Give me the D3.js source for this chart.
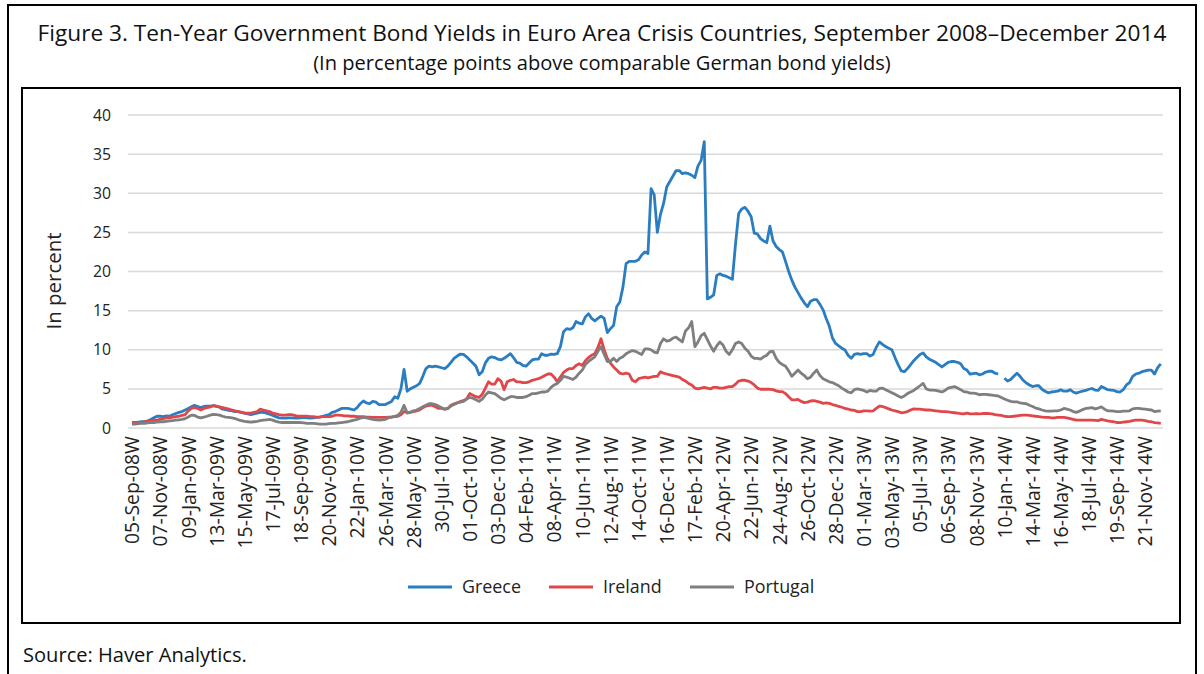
<!DOCTYPE html>
<html>
<head>
<meta charset="utf-8">
<script src="https://cdn.jsdelivr.net/npm/d3@7"></script>
<style>
  body { margin: 0; background: #fff; }
  svg { font-family: "Open Sans", "Noto Sans", sans-serif; }
</style>
</head>
<body>
<svg width="1204" height="674"></svg>
<script>
// weekly spreads, first week 05-Sep-2008, last week 26-Dec-2014
const startDate = new Date(2008, 8, 5);

const greece = [
  0.7,0.7,0.75,0.8,0.8,0.9,1.1,1.3,1.5,
  1.5,1.45,1.55,1.5,1.7,1.85,2.0,2.1,2.3,
  2.5,2.7,2.9,2.75,2.6,2.75,2.8,2.8,2.85,
  2.75,2.65,2.4,2.35,2.25,2.2,2.1,2.1,2.0,
  1.9,1.8,1.7,1.8,1.9,2.0,2.0,1.9,1.75,
  1.6,1.45,1.3,1.25,1.25,1.3,1.3,1.25,1.25,
  1.3,1.35,1.3,1.25,1.3,1.35,1.4,1.5,1.6,
  1.7,2.0,2.1,2.3,2.5,2.5,2.5,2.4,2.3,
  2.6,3.1,3.45,3.2,3.1,3.4,3.3,3.0,3.0,
  3.0,3.2,3.4,4.0,3.8,5.0,7.5,4.7,5.0,
  5.2,5.4,5.7,6.6,7.6,7.9,7.8,7.9,7.8,
  7.7,7.6,7.9,8.4,8.9,9.2,9.45,9.4,9.1,
  8.7,8.3,7.9,6.8,7.2,8.3,8.9,9.1,9.0,
  8.8,8.7,8.9,9.2,9.5,9.0,8.4,8.3,8.0,
  7.9,8.3,8.7,8.8,8.8,9.5,9.3,9.3,9.45,
  9.4,9.5,10.4,12.3,12.7,12.6,12.8,13.6,13.4,
  13.3,14.2,14.6,14.0,13.7,14.0,14.3,14.0,12.2,
  12.7,13.1,15.5,16.1,18.0,21.0,21.3,21.3,21.3,
  21.5,22.1,22.5,22.3,30.6,29.8,25.0,27.3,28.7,
  30.8,31.5,32.2,32.9,32.9,32.5,32.6,32.5,32.3,
  32.0,33.5,34.2,36.6,16.5,16.7,17.0,19.5,19.7,
  19.5,19.4,19.2,19.0,23.5,27.4,28.0,28.2,27.7,
  27.0,24.9,24.8,24.2,23.9,23.7,25.8,23.9,23.2,
  22.8,22.5,21.3,20.0,18.9,18.0,17.3,16.6,16.0,
  15.5,16.2,16.4,16.4,15.8,15.1,14.0,13.0,11.5,
  10.8,10.5,10.2,9.96,9.3,8.9,9.4,9.5,9.4,
  9.5,9.5,9.2,9.4,10.3,11.0,10.7,10.4,10.2,
  10.0,9.0,8.1,7.3,7.2,7.6,8.1,8.6,9.0,
  9.4,9.6,9.1,8.8,8.6,8.4,8.1,7.8,8.1,
  8.4,8.5,8.5,8.4,8.2,7.6,7.4,6.9,6.95,
  7.0,6.8,6.9,7.15,7.25,7.25,7.0,6.9,null,
  6.35,6.0,6.2,6.6,7.0,6.6,6.1,5.75,5.5,
  5.3,5.4,5.4,4.95,4.7,4.5,4.6,4.65,4.7,
  4.9,4.7,4.7,4.9,4.6,4.45,4.6,4.7,4.8,
  4.95,5.05,4.85,4.8,5.3,5.1,4.9,4.85,4.8,
  4.65,4.6,4.9,5.5,5.8,6.6,6.9,7.0,7.2,
  7.3,7.4,7.4,6.9,7.7,8.2
];

const ireland = [
  0.6,0.6,0.7,0.7,0.8,0.85,0.9,1.0,1.0,
  1.1,1.2,1.3,1.3,1.4,1.45,1.5,1.6,1.7,
  2.2,2.5,2.6,2.5,2.3,2.5,2.6,2.7,2.85,
  2.8,2.7,2.6,2.5,2.4,2.3,2.2,2.1,2.0,
  1.9,1.9,1.9,2.0,2.1,2.4,2.3,2.2,2.1,
  1.9,1.8,1.7,1.65,1.65,1.7,1.7,1.6,1.5,
  1.5,1.5,1.5,1.45,1.45,1.4,1.4,1.45,1.45,
  1.45,1.5,1.65,1.65,1.6,1.55,1.55,1.5,1.5,
  1.45,1.45,1.45,1.4,1.4,1.35,1.35,1.35,1.35,
  1.35,1.4,1.4,1.45,1.5,1.7,2.1,2.0,2.0,
  2.1,2.2,2.3,2.6,2.8,2.9,2.9,2.7,2.5,
  2.5,2.4,2.5,2.9,3.1,3.2,3.4,3.5,3.7,
  4.4,4.2,4.0,3.9,4.3,5.1,5.9,5.6,5.6,
  6.3,6.0,4.9,5.9,6.1,6.2,5.9,5.9,5.8,
  5.8,5.9,6.1,6.2,6.3,6.5,6.7,6.9,6.9,
  6.5,5.9,6.5,7.1,7.4,7.6,7.6,8.0,8.2,
  8.0,8.6,9.0,9.3,9.5,10.3,11.4,10.0,8.9,
  8.3,7.8,7.4,7.0,6.9,7.0,6.9,6.1,5.9,
  6.3,6.4,6.5,6.4,6.5,6.6,6.6,7.2,7.0,
  6.9,6.8,6.7,6.6,6.5,6.2,6.0,5.7,5.5,
  5.1,5.0,5.1,5.2,5.1,5.0,5.2,5.2,5.1,
  5.1,5.2,5.3,5.3,5.6,6.0,6.1,6.1,6.0,
  5.8,5.5,5.1,4.95,4.95,4.95,4.95,4.9,4.75,
  4.65,4.65,4.4,4.0,3.6,3.6,3.65,3.4,3.25,
  3.3,3.45,3.5,3.4,3.3,3.15,3.2,3.15,3.0,
  2.9,2.75,2.65,2.5,2.4,2.3,2.25,2.1,2.1,
  2.2,2.2,2.15,2.2,2.5,2.8,2.75,2.6,2.45,
  2.3,2.2,2.1,1.95,2.0,2.1,2.3,2.45,2.4,
  2.4,2.35,2.3,2.3,2.25,2.2,2.15,2.1,2.1,
  2.05,2.0,1.95,1.9,1.85,1.8,1.9,1.8,1.8,
  1.85,1.8,1.85,1.85,1.85,1.8,1.7,1.65,1.6,
  1.5,1.45,1.45,1.5,1.55,1.6,1.65,1.65,1.6,
  1.55,1.5,1.45,1.4,1.35,1.35,1.3,1.3,1.35,
  1.35,1.35,1.3,1.2,1.1,1.0,1.0,1.0,1.0,
  1.0,1.0,0.98,0.95,1.1,1.0,0.92,0.85,0.8,
  0.7,0.68,0.75,0.8,0.85,0.95,1.0,1.0,1.0,
  0.95,0.85,0.8,0.7,0.65,0.6
];

const portugal = [
  0.5,0.5,0.55,0.6,0.6,0.65,0.7,0.7,0.75,
  0.8,0.8,0.85,0.9,0.95,1.0,1.05,1.1,1.2,
  1.4,1.65,1.6,1.4,1.3,1.4,1.5,1.65,1.75,
  1.7,1.65,1.5,1.4,1.35,1.3,1.2,1.05,0.95,
  0.85,0.8,0.75,0.8,0.85,0.95,1.0,1.05,1.1,
  1.0,0.85,0.75,0.7,0.7,0.7,0.7,0.7,0.7,
  0.7,0.65,0.6,0.6,0.6,0.55,0.5,0.5,0.5,
  0.55,0.6,0.6,0.65,0.7,0.75,0.8,0.9,1.0,
  1.1,1.25,1.35,1.3,1.2,1.1,1.05,1.0,1.05,
  1.1,1.3,1.4,1.5,1.6,2.0,2.9,1.9,2.0,
  2.2,2.3,2.5,2.7,2.9,3.1,3.1,3.0,2.8,
  2.6,2.4,2.5,2.8,3.0,3.2,3.3,3.4,3.7,
  3.9,3.8,3.6,3.4,3.7,4.2,4.6,4.5,4.4,
  4.1,3.8,3.6,3.8,4.0,4.0,3.9,3.9,3.9,
  4.0,4.2,4.4,4.4,4.5,4.6,4.6,4.7,5.2,
  5.5,5.7,6.1,6.6,6.5,6.35,6.2,6.5,7.0,
  7.4,8.1,8.5,8.8,9.1,9.8,10.4,9.4,8.5,
  8.5,8.9,8.5,8.9,9.1,9.5,9.7,9.9,9.8,
  9.6,9.4,10.1,10.1,10.0,9.7,9.6,10.8,11.4,
  11.1,11.2,11.5,11.6,11.3,11.0,12.4,12.8,13.6,
  10.4,11.0,11.8,12.1,11.3,10.5,9.8,10.5,11.0,
  10.6,9.8,9.4,10.0,10.8,11.0,10.8,10.2,9.8,
  9.2,8.9,8.9,8.8,9.1,9.3,9.75,9.8,8.9,
  8.4,8.1,7.9,7.3,6.6,7.0,7.4,7.0,6.7,
  6.3,6.5,7.0,7.4,6.7,6.3,6.1,5.9,5.8,
  5.6,5.4,5.1,4.85,4.6,4.5,4.9,5.0,4.9,
  4.8,4.6,4.8,4.7,4.7,5.05,5.1,4.9,4.7,
  4.5,4.3,4.1,3.9,4.1,4.4,4.6,4.8,5.1,
  5.4,5.7,5.0,4.85,4.85,4.8,4.7,4.6,4.8,
  5.1,5.2,5.3,5.1,4.9,4.65,4.6,4.45,4.45,
  4.4,4.25,4.3,4.3,4.25,4.2,4.15,4.1,3.9,
  3.7,3.55,3.4,3.35,3.35,3.2,3.15,3.1,2.9,
  2.75,2.55,2.45,2.3,2.2,2.15,2.15,2.2,2.2,
  2.3,2.5,2.4,2.3,2.1,2.0,2.15,2.35,2.5,
  2.55,2.6,2.45,2.55,2.7,2.4,2.2,2.2,2.15,
  2.1,2.1,2.15,2.15,2.2,2.45,2.5,2.5,2.45,
  2.4,2.35,2.3,2.1,2.15,2.2
];

const yTicks = [0, 5, 10, 15, 20, 25, 30, 35, 40];
const labelEvery = 9;

const series = [
  { name: "Greece", values: greece, color: "#2a7dc0" },
  { name: "Ireland", values: ireland, color: "#e0474a" },
  { name: "Portugal", values: portugal, color: "#7f7f7f" }
];

const weeks = greece.map((_, i) => d3.timeDay.offset(startDate, i * 7));
const fmt = d3.timeFormat("%d-%b-%y");

// scale font so that the first node reaches the wanted width
function fitWidth(sel, size, target) {
    sel.attr("font-size", size);
    const w = sel.node().getComputedTextLength();
    sel.attr("font-size", size * target / w);
}

const svg = d3.select("svg");

// frames
svg.append("rect")
    .attr("x", 8).attr("y", 5).attr("width", 1188).attr("height", 720)
    .attr("fill", "none").attr("stroke", "#000").attr("stroke-width", 2);
svg.append("rect")
    .attr("x", 22).attr("y", 88).attr("width", 1158).attr("height", 535)
    .attr("fill", "none").attr("stroke", "#000").attr("stroke-width", 2);

const title = svg.append("text")
    .attr("x", 602).attr("y", 41)
    .attr("text-anchor", "middle")
    .attr("fill", "#111")
    .text("Figure 3. Ten-Year Government Bond Yields in Euro Area Crisis Countries, September 2008\u2013December 2014");
fitWidth(title, 20, 1129);

const subtitle = svg.append("text")
    .attr("x", 602).attr("y", 70)
    .attr("text-anchor", "middle")
    .attr("fill", "#111")
    .text("(In percentage points above comparable German bond yields)");
fitWidth(subtitle, 17, 578);

const x = d3.scaleLinear()
    .domain([0, greece.length - 1])
    .range([132, 132 + (greece.length - 1) * 3.127]);

const y = d3.scaleLinear()
    .domain([0, 40])
    .range([428, 115]);

// gridlines
svg.append("g")
    .selectAll("line")
    .data(yTicks.filter(d => d > 0))
    .join("line")
    .attr("x1", 128).attr("x2", 1163)
    .attr("y1", d => y(d)).attr("y2", d => y(d))
    .attr("stroke", "#d9d9d9").attr("stroke-width", 1.5);

// y axis labels
const yAxis = svg.append("g")
    .attr("transform", "translate(111,0)")
    .call(d3.axisLeft(y).tickValues(yTicks).tickSize(0).tickPadding(0));
yAxis.select(".domain").remove();
yAxis.selectAll("text")
    .attr("font-family", "'Open Sans', sans-serif")
    .attr("fill", "#222");
fitWidth(yAxis.selectAll("text").filter(d => d === 40), 16, 18);
yAxis.selectAll("text").attr("font-size", yAxis.selectAll("text").filter(d => d === 40).attr("font-size"));

// x axis
const xAxis = svg.append("g")
    .attr("transform", "translate(0,428)")
    .call(d3.axisBottom(x)
        .tickValues(d3.range(0, greece.length, labelEvery))
        .tickSize(0)
        .tickFormat(i => fmt(weeks[i]) + "W"));
xAxis.select(".domain")
    .attr("d", "M128,0H1163")
    .attr("stroke", "#d9d9d9").attr("stroke-width", 1.5);
const xText = xAxis.selectAll("text")
    .attr("font-family", "'Open Sans', sans-serif")
    .attr("fill", "#222")
    .attr("transform", "rotate(-90)")
    .attr("text-anchor", "end")
    .attr("x", -8)
    .attr("y", 0)
    .attr("dy", "0.35em");
fitWidth(xAxis.select(".tick text"), 14, 108);
xText.attr("font-size", xAxis.select(".tick text").attr("font-size"));

const yLabel = svg.append("text")
    .attr("transform", "translate(61,281) rotate(-90)")
    .attr("text-anchor", "middle")
    .attr("fill", "#222")
    .text("In percent");
fitWidth(yLabel, 17, 97);

// lines
const line = d3.line()
    .defined(d => d != null)
    .x((d, i) => x(i))
    .y(d => y(d));

svg.append("g")
    .selectAll("path")
    .data(series)
    .join("path")
    .attr("fill", "none")
    .attr("stroke", d => d.color)
    .attr("stroke-width", 2.8)
    .attr("stroke-linejoin", "round")
    .attr("d", d => line(d.values));

// legend
const legendX = [408, 549, 690];
const legend = svg.append("g")
    .selectAll("g")
    .data(series)
    .join("g")
    .attr("transform", (d, i) => `translate(${legendX[i]},587)`);
legend.append("line")
    .attr("x1", 0).attr("x2", 44)
    .attr("stroke", d => d.color).attr("stroke-width", 2.8);
const legendText = legend.append("text")
    .attr("x", 54).attr("y", 6)
    .attr("fill", "#222")
    .text(d => d.name);
fitWidth(legendText.filter((d, i) => i === 0), 16, 59);
legendText.attr("font-size", legendText.filter((d, i) => i === 0).attr("font-size"));

const source = svg.append("text")
    .attr("x", 23).attr("y", 662)
    .attr("fill", "#111")
    .text("Source: Haver Analytics.");
fitWidth(source, 17, 224);
</script>
</body>
</html>
